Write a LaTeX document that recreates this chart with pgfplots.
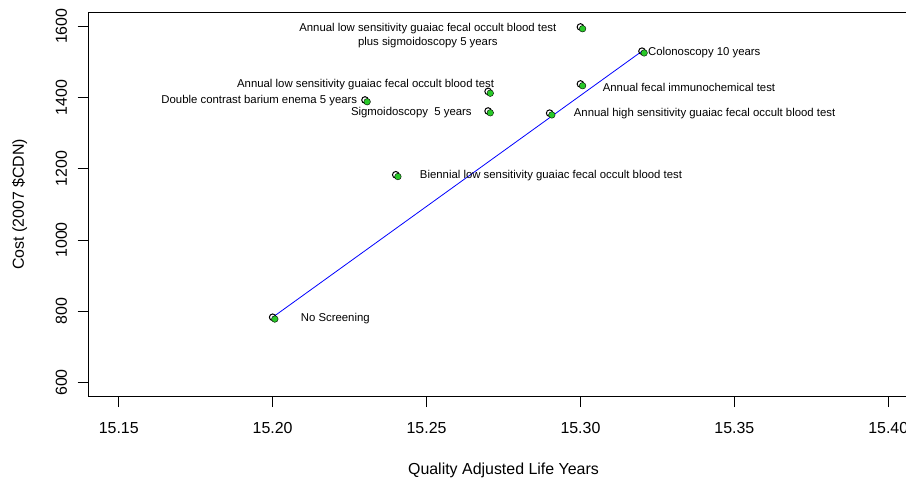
\documentclass[border=0pt]{standalone}
\usepackage{fontspec}
\setmainfont{Liberation Sans}
\usepackage{pgfplots}
\pgfplotsset{compat=1.18}
\definecolor{ptgreen}{RGB}{40,200,40}
\begin{document}
\begin{tikzpicture}
\useasboundingbox (0,0) rectangle (906bp,480bp);
\clip (0,0) rectangle (906bp,480bp);
\begin{axis}[
  at={(88bp,83.3bp)}, anchor=south west,
  scale only axis, width=831bp, height=384.7bp,
  xmin=15.14, xmax=15.41, ymin=560, ymax=1640,
  xtick={15.15,15.20,15.25,15.30,15.35,15.40},
  ytick={600,800,1000,1200,1400,1600},
  xtick pos=bottom, ytick pos=left,
  tick align=outside, major tick length=10.5bp,
  axis line style={black, line width=0.8bp},
  tick style={black, line width=0.8bp},
  /pgf/number format/assume math mode=true,
  xticklabel style={/pgf/number format/.cd, fixed, fixed zerofill, precision=2, /tikz/.cd, font=\fontsize{16}{19}\selectfont},
  yticklabel style={rotate=90, anchor=south, font=\fontsize{16}{19}\selectfont, /pgf/number format/1000 sep={}},
  xticklabel shift=12bp, yticklabel shift=7bp,
  scaled x ticks=false,
  xlabel={Quality Adjusted Life Years},
  ylabel={Cost (2007 \$CDN)},
  xlabel style={at={(axis description cs:0.5,-0.19054)}, anchor=center, font=\fontsize{16}{19}\selectfont},
  ylabel style={at={(axis description cs:-0.08243,0.5)}, anchor=center, rotate=0, font=\fontsize{16}{19}\selectfont},
  clip=false,
]
\addplot[only marks, mark=o, mark size=3.3bp, mark options={line width=1bp, draw=black}] coordinates {
(15.20,783) (15.24,1183) (15.23,1393) (15.27,1417) (15.27,1362) (15.29,1356) (15.30,1438) (15.30,1598) (15.32,1530)};
\addplot[only marks, mark=*, mark size=3.3bp, mark options={fill=ptgreen, draw=none}] coordinates {
(15.2007,778) (15.2407,1178) (15.2307,1388) (15.2707,1412) (15.2707,1357) (15.2907,1351) (15.3007,1433) (15.3007,1593) (15.3207,1525)};
\addplot[blue, line width=0.8bp] coordinates {(15.20,783) (15.32,1530)};
\begin{scope}[every node/.style={font=\fontsize{11.4}{14}\selectfont, inner sep=0pt, text=black}]
\node[align=center, anchor=center] at (axis cs:15.2504,1572.6) {Annual low sensitivity guaiac fecal occult blood test\\plus sigmoidoscopy 5 years};
\node[anchor=west] at (axis cs:15.1884,1435) {Annual low sensitivity guaiac fecal occult blood test};
\node[anchor=west] at (axis cs:15.1638,1390) {Double contrast barium enema 5 years};
\node[anchor=west] at (axis cs:15.2254,1358) {Sigmoidoscopy\ \ 5 years};
\node[anchor=west] at (axis cs:15.2978,1353.5) {Annual high sensitivity guaiac fecal occult blood test};
\node[anchor=west] at (axis cs:15.3072,1429) {Annual fecal immunochemical test};
\node[anchor=west] at (axis cs:15.3219,1525.6) {Colonoscopy 10 years};
\node[anchor=west] at (axis cs:15.2478,1179.5) {Biennial low sensitivity guaiac fecal occult blood test};
\node[anchor=west] at (axis cs:15.2091,780) {No Screening};
\end{scope}
\end{axis}
\end{tikzpicture}
\end{document}
